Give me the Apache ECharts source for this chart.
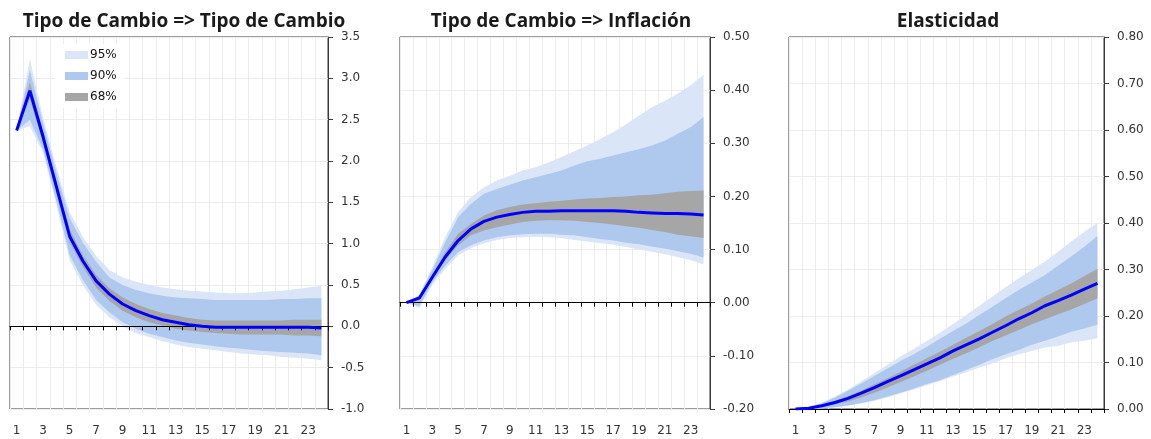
<!DOCTYPE html>
<html>
<head>
<meta charset="utf-8">
<script src="https://cdn.jsdelivr.net/npm/echarts@6/dist/echarts.min.js"></script>
<style>html,body{margin:0;padding:0;background:#fff}#c{width:1151px;height:439px}</style>
</head>
<body>
<div id="c"></div>
<script>
const periods = ['1','2','3','4','5','6','7','8','9','10','11','12','13','14','15','16','17','18','19','20','21','22','23','24'];
const titles = ['Tipo de Cambio => Tipo de Cambio', 'Tipo de Cambio => Inflación', 'Elasticidad'];
const bandNames = ['95%', '90%', '68%'];

// Panel 1: Tipo de Cambio => Tipo de Cambio
const tcLine = [2.37,2.85,2.29,1.69,1.09,0.79,0.55,0.39,0.27,0.19,0.13,0.08,0.05,0.02,0.00,-0.01,-0.01,-0.01,-0.01,-0.01,-0.01,-0.01,-0.01,-0.02];
const tcU95 = [2.37,3.23,2.52,1.93,1.38,1.08,0.85,0.68,0.59,0.54,0.50,0.47,0.45,0.43,0.42,0.41,0.40,0.40,0.41,0.42,0.43,0.45,0.47,0.49];
const tcU90 = [2.37,3.10,2.45,1.86,1.31,1.01,0.78,0.59,0.50,0.44,0.40,0.37,0.35,0.34,0.33,0.32,0.32,0.32,0.32,0.32,0.33,0.33,0.34,0.34];
const tcU68 = [2.37,2.95,2.35,1.76,1.17,0.86,0.62,0.46,0.35,0.27,0.21,0.16,0.13,0.10,0.08,0.07,0.07,0.07,0.07,0.07,0.07,0.08,0.08,0.08];
const tcL68 = [2.37,2.75,2.22,1.62,1.02,0.72,0.47,0.31,0.19,0.11,0.05,0.01,-0.03,-0.05,-0.07,-0.08,-0.09,-0.10,-0.10,-0.10,-0.10,-0.11,-0.11,-0.12];
const tcL90 = [2.37,2.50,2.14,1.52,0.86,0.56,0.32,0.17,0.05,-0.03,-0.09,-0.13,-0.17,-0.20,-0.22,-0.24,-0.26,-0.27,-0.29,-0.30,-0.31,-0.32,-0.33,-0.35];
const tcL95 = [2.37,2.42,2.10,1.47,0.80,0.50,0.26,0.11,0.00,-0.08,-0.13,-0.18,-0.22,-0.25,-0.27,-0.29,-0.31,-0.33,-0.34,-0.35,-0.37,-0.38,-0.39,-0.41];

// Panel 2: Tipo de Cambio => Inflación
const infLine = [0,0.009,0.048,0.086,0.117,0.139,0.153,0.161,0.166,0.170,0.172,0.172,0.173,0.173,0.173,0.173,0.173,0.172,0.170,0.169,0.168,0.168,0.167,0.165];
const infU95 = [0,0.015,0.067,0.123,0.170,0.199,0.217,0.230,0.239,0.249,0.255,0.264,0.274,0.285,0.296,0.308,0.321,0.336,0.352,0.368,0.380,0.393,0.409,0.429];
const infU90 = [0,0.013,0.061,0.114,0.161,0.186,0.205,0.214,0.222,0.230,0.236,0.242,0.249,0.258,0.266,0.271,0.277,0.283,0.289,0.296,0.305,0.318,0.330,0.349];
const infU68 = [0,0.011,0.051,0.095,0.130,0.148,0.164,0.174,0.180,0.185,0.187,0.190,0.192,0.194,0.196,0.197,0.199,0.200,0.202,0.203,0.206,0.209,0.210,0.211];
const infL68 = [0,0.004,0.045,0.080,0.108,0.127,0.136,0.142,0.147,0.152,0.154,0.155,0.155,0.154,0.152,0.150,0.147,0.144,0.141,0.137,0.133,0.128,0.125,0.122];
const infL90 = [0,-0.006,0.039,0.070,0.095,0.108,0.117,0.123,0.127,0.129,0.130,0.130,0.128,0.127,0.123,0.120,0.117,0.113,0.110,0.106,0.102,0.097,0.092,0.085];
const infL95 = [0,-0.010,0.033,0.064,0.089,0.103,0.112,0.118,0.122,0.123,0.124,0.123,0.122,0.118,0.115,0.112,0.109,0.105,0.100,0.096,0.091,0.086,0.080,0.072];

// Panel 3: Elasticidad
const elLine = [0,0.0015,0.007,0.014,0.023,0.034,0.046,0.059,0.071,0.084,0.097,0.110,0.125,0.138,0.151,0.165,0.179,0.194,0.207,0.222,0.233,0.245,0.258,0.270];
const elU95 = [0,0.005,0.014,0.027,0.042,0.059,0.077,0.095,0.113,0.129,0.146,0.164,0.183,0.202,0.222,0.242,0.262,0.281,0.299,0.317,0.338,0.360,0.381,0.400];
const elU90 = [0,0.004,0.012,0.025,0.039,0.055,0.071,0.087,0.103,0.118,0.134,0.151,0.168,0.184,0.202,0.220,0.238,0.256,0.272,0.288,0.308,0.328,0.349,0.372];
const elU68 = [0,0.002,0.009,0.017,0.028,0.039,0.053,0.066,0.080,0.095,0.109,0.123,0.138,0.153,0.168,0.183,0.199,0.213,0.227,0.242,0.256,0.270,0.286,0.301];
const elL68 = [0,0.001,0.005,0.010,0.016,0.025,0.035,0.046,0.058,0.070,0.082,0.095,0.108,0.120,0.133,0.146,0.158,0.170,0.182,0.193,0.204,0.214,0.226,0.238];
const elL90 = [0,0,0.0015,0.004,0.008,0.013,0.019,0.027,0.035,0.044,0.054,0.062,0.073,0.084,0.095,0.107,0.118,0.127,0.138,0.147,0.156,0.166,0.173,0.181];
const elL95 = [0,0,0.0015,0.004,0.007,0.012,0.018,0.025,0.034,0.042,0.051,0.060,0.070,0.079,0.089,0.098,0.109,0.118,0.125,0.132,0.136,0.143,0.147,0.152];

const yMin = [-1.0, -0.2, 0.0];
const yMax = [3.5, 0.5, 0.8];
const yStep = [0.5, 0.1, 0.1];
const yDecimals = [1, 2, 2];

const panels = [
  {line: tcLine, bands: [[tcL95, tcU95], [tcL90, tcU90], [tcL68, tcU68]]},
  {line: infLine, bands: [[infL95, infU95], [infL90, infU90], [infL68, infU68]]},
  {line: elLine, bands: [[elL95, elU95], [elL90, elU90], [elL68, elU68]]}
];

const bandColors = ['#dae5f7', '#aec8ee', '#a6a6a6'];
const gridBoxes = [
  {left: 10, top: 37, width: 318, height: 372},
  {left: 400, top: 37, width: 310, height: 372},
  {left: 789, top: 37, width: 315, height: 372}
];
const titleCenters = [179, 556, 943];
const font = 'DejaVu Sans';

const grid = [], xAxis = [], yAxis = [], series = [], title = [];
panels.forEach((p, k) => {
  const g = gridBoxes[k];
  grid.push(Object.assign({show: true, borderColor: '#3a3a3a', borderWidth: 1, backgroundColor: '#fff', containLabel: false}, g));
  title.push({
    text: titles[k], left: titleCenters[k], top: 7, textAlign: 'center',
    textStyle: {fontFamily: 'Open Sans', fontWeight: 'bold', fontSize: 19, color: '#1a1a1a'}
  });
  const zeroAtBottom = yMin[k] === 0;
  // labelled category axis at the bottom
  xAxis.push({
    type: 'category', gridIndex: k, data: periods, position: 'bottom', boundaryGap: true,
    axisLine: {show: zeroAtBottom, onZero: false, lineStyle: {color: '#000', width: 1}},
    axisTick: {show: zeroAtBottom, interval: 0, length: 4, lineStyle: {color: '#000'}},
    axisLabel: {interval: 1, margin: 16, color: '#333', fontFamily: font, fontSize: 12},
    splitLine: {show: true, interval: 0, lineStyle: {color: '#ececec', width: 1}}
  });
  // zero line with ticks
  xAxis.push({
    type: 'category', gridIndex: k, data: periods, position: 'top', boundaryGap: true, z: 5,
    show: !zeroAtBottom,
    axisLine: {show: true, onZero: true, lineStyle: {color: '#000', width: 1}},
    axisTick: {show: true, inside: true, interval: 0, length: 4, lineStyle: {color: '#000'}},
    axisLabel: {show: false},
    splitLine: {show: false}
  });
  yAxis.push({
    type: 'value', gridIndex: k, position: 'right', min: yMin[k], max: yMax[k], interval: yStep[k],
    axisLine: {show: true, lineStyle: {color: '#3a3a3a'}},
    axisTick: {show: true, length: 5, lineStyle: {color: '#3a3a3a'}},
    axisLabel: {margin: 13, color: '#333', fontFamily: font, fontSize: 12,
      formatter: v => v.toFixed(yDecimals[k])},
    splitLine: {show: true, lineStyle: {color: '#ececec', width: 1}}
  });
  p.bands.forEach((b, j) => {
    const lo = b[0], hi = b[1];
    const st = 'band' + k + '_' + j;
    series.push({
      type: 'line', name: 'base' + k + j, xAxisIndex: 2 * k, yAxisIndex: k,
      stack: st, stackStrategy: 'all', data: lo, symbol: 'none', silent: true,
      lineStyle: {opacity: 0, width: 0}, z: 2
    });
    series.push({
      type: 'line', name: bandNames[j], xAxisIndex: 2 * k, yAxisIndex: k,
      stack: st, stackStrategy: 'all', data: hi.map((v, i) => +(v - lo[i]).toFixed(4)),
      symbol: 'none', silent: true, color: bandColors[j],
      lineStyle: {opacity: 0, width: 0},
      areaStyle: {color: bandColors[j], opacity: 1}, z: 2
    });
  });
  series.push({
    type: 'line', name: 'Respuesta' + k, xAxisIndex: 2 * k, yAxisIndex: k, data: p.line,
    symbol: 'none', silent: true, color: '#0000ff',
    lineStyle: {color: '#0000ff', width: 3}, z: 6
  });
});

const chart = echarts.init(document.getElementById('c'), null, {renderer: 'canvas'});
chart.setOption({
  animation: false,
  backgroundColor: '#fff',
  textStyle: {fontFamily: font},
  title: title,
  legend: {
    data: bandNames.map((n, j) => ({name: n, icon: 'rect', itemStyle: {color: bandColors[j]}})),
    orient: 'vertical', left: 55, top: 44,
    padding: [5, 8, 5, 10], itemGap: 9, itemWidth: 23, itemHeight: 8,
    backgroundColor: '#fff', selectedMode: false,
    textStyle: {fontFamily: font, fontSize: 12, color: '#111', padding: [0, 0, 0, -3], lineHeight: 12}
  },
  grid: grid, xAxis: xAxis, yAxis: yAxis, series: series
});
</script>
</body>
</html>
